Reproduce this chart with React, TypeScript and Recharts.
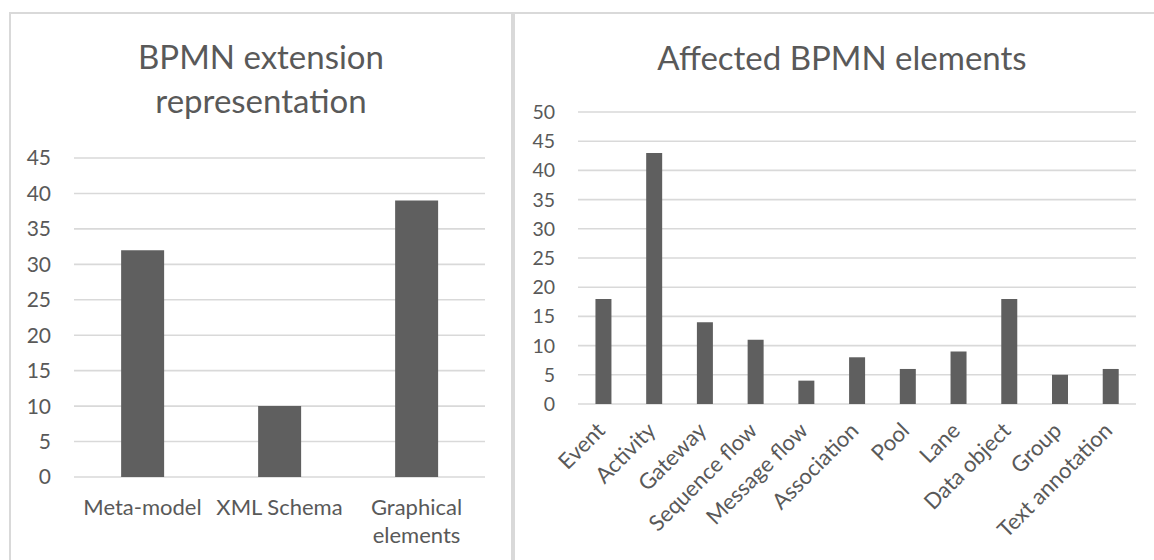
import React from "react";
import { Bar, BarChart, CartesianGrid, XAxis, YAxis } from "recharts";

const representationCategories = ["Meta-model", "XML Schema", "Graphical elements"];
const representationCounts = [32, 10, 39];
const representationTicks = [0, 5, 10, 15, 20, 25, 30, 35, 40, 45];

const elementCategories = [
  "Event",
  "Activity",
  "Gateway",
  "Sequence flow",
  "Message flow",
  "Association",
  "Pool",
  "Lane",
  "Data object",
  "Group",
  "Text annotation",
];
const elementCounts = [18, 43, 14, 11, 4, 8, 6, 9, 18, 5, 6];
const elementTicks = [0, 5, 10, 15, 20, 25, 30, 35, 40, 45, 50];

const FONT = "Lato, 'Open Sans', sans-serif";
const TEXT = "#595959";
const GRID = "#d9d9d9";
const BAR = "#5f5f5f";

const representationData = representationCategories.map((name, i) => ({
  name,
  value: representationCounts[i],
}));
const elementData = elementCategories.map((name, i) => ({
  name,
  value: elementCounts[i],
}));

// two-line labels for the long category names, like Excel wraps them
function WrapTick({ x, y, payload }: any) {
  const label: string = payload.value;
  const lines = label.length > 12 ? label.split(" ") : [label];
  return (
    <text x={x} y={y} textAnchor="middle" fill={TEXT} fontSize={22} fontFamily={FONT}>
      {lines.map((l, i) => (
        <tspan key={i} x={x} dy={i === 0 ? 38 : 28}>
          {l}
        </tspan>
      ))}
    </text>
  );
}

function SlantTick({ x, y, payload }: any) {
  const tx = x + 3;
  const ty = y + 28;
  return (
    <text
      x={tx}
      y={ty}
      transform={`rotate(-45 ${tx} ${ty})`}
      textAnchor="end"
      fill={TEXT}
      fontSize={22}
      fontFamily={FONT}
    >
      {payload.value}
    </text>
  );
}

const panel: React.CSSProperties = {
  position: "absolute",
  top: 12,
  height: 620,
  border: `2px solid ${GRID}`,
  boxSizing: "border-box",
};

export default function App() {
  return (
    <div
      style={{
        position: "absolute",
        left: 0,
        top: 0,
        width: 1154,
        height: 560,
        overflow: "hidden",
        background: "#fff",
      }}
    >
      <div style={{ ...panel, left: 9, width: 504 }} />
      <div style={{ ...panel, left: 513, width: 700 }} />

      <div style={{ position: "absolute", left: 0, top: 0 }}>
        <BarChart
          width={513}
          height={560}
          data={representationData}
          margin={{ top: 158, right: 28, left: 14, bottom: 13 }}
          barCategoryGap="34.4%"
        >
          <CartesianGrid vertical={false} stroke={GRID} strokeWidth={1.6} />
          <XAxis
            dataKey="name"
            interval={0}
            axisLine={false}
            tickLine={false}
            tickSize={0}
            tickMargin={0}
            height={70}
            tick={<WrapTick />}
          />
          <YAxis
            domain={[0, 45]}
            ticks={representationTicks}
            axisLine={false}
            tickLine={false}
            tickSize={0}
            tickMargin={23}
            width={60}
            tick={{ fill: TEXT, fontSize: 21, fontFamily: FONT }}
          />
          <Bar dataKey="value" fill={BAR} isAnimationActive={false} />
        </BarChart>
      </div>

      <div style={{ position: "absolute", left: 513, top: 0 }}>
        <BarChart
          width={641}
          height={560}
          data={elementData}
          margin={{ top: 112, right: 18, left: 15, bottom: 6 }}
          barCategoryGap="34.4%"
        >
          <CartesianGrid vertical={false} stroke={GRID} strokeWidth={1.6} />
          <XAxis
            dataKey="name"
            interval={0}
            axisLine={false}
            tickLine={false}
            tickSize={0}
            tickMargin={0}
            height={150}
            tick={<SlantTick />}
          />
          <YAxis
            domain={[0, 50]}
            ticks={elementTicks}
            axisLine={false}
            tickLine={false}
            tickSize={0}
            tickMargin={23}
            width={50}
            tick={{ fill: TEXT, fontSize: 19.5, fontFamily: FONT }}
          />
          <Bar dataKey="value" fill={BAR} isAnimationActive={false} />
        </BarChart>
      </div>

      <svg
        width={1154}
        height={560}
        style={{ position: "absolute", left: 0, top: 0, pointerEvents: "none" }}
      >
        <text x={261} y={69} textAnchor="middle" fill={TEXT} fontSize={33} fontFamily={FONT}>
          BPMN extension
        </text>
        <text x={261} y={113} textAnchor="middle" fill={TEXT} fontSize={33} fontFamily={FONT}>
          representation
        </text>
        <text x={842} y={70} textAnchor="middle" fill={TEXT} fontSize={33} fontFamily={FONT}>
          Affected BPMN elements
        </text>
      </svg>
    </div>
  );
}
